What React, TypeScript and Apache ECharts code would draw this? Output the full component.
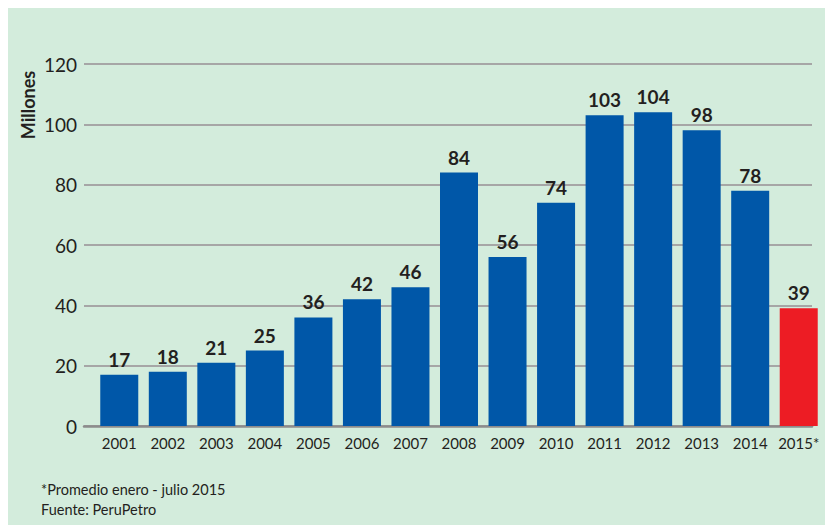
import React, { useEffect, useRef } from "react";
import * as echarts from "echarts";

const categories = ["2001", "2002", "2003", "2004", "2005", "2006", "2007", "2008", "2009", "2010", "2011", "2012", "2013", "2014", "2015*"];
const values = [17, 18, 21, 25, 36, 42, 46, 84, 56, 74, 103, 104, 98, 78, 39];
const highlightIndex = 14;
const yTicks = { min: 0, max: 120, interval: 20 };
const axisTitle = "Millones";
const footnotes = ["*Promedio enero - julio 2015", "Fuente: PeruPetro"];

const FONT = "Lato, 'Open Sans', sans-serif";
const TEXT = "#231f20";

export default function App() {
  const ref = useRef<HTMLDivElement>(null);
  useEffect(() => {
    if (!ref.current) return;
    const chart = echarts.init(ref.current, undefined, { renderer: "svg" });
    chart.setOption({
      animation: false,
      backgroundColor: "#d3ecdc",
      textStyle: { fontFamily: FONT },
      grid: [
        { left: 76, width: 728, top: 56, bottom: 99 },
        { left: 87, width: 728, top: 56, bottom: 99 },
      ],
      xAxis: [
        {
          gridIndex: 0,
          type: "value",
          min: 0,
          max: 1,
          axisLabel: { show: false },
          axisTick: { show: false },
          splitLine: { show: false },
          axisLine: { show: true, lineStyle: { color: "#8c8c8c", width: 2.5 } },
        },
        {
          gridIndex: 1,
          type: "category",
          data: categories,
          axisLine: { show: false },
          axisTick: { show: false },
          axisLabel: { color: TEXT, fontSize: 15, margin: 9, interval: 0, fontFamily: FONT },
        },
      ],
      yAxis: [
        {
          gridIndex: 0,
          type: "value",
          min: yTicks.min,
          max: yTicks.max,
          interval: yTicks.interval,
          axisLine: { show: false },
          axisTick: { show: false },
          axisLabel: { color: TEXT, fontSize: 19, margin: 7, fontFamily: FONT },
          splitLine: { lineStyle: { color: "#a6a6a6", width: 2 } },
        },
        {
          gridIndex: 1,
          type: "value",
          min: yTicks.min,
          max: yTicks.max,
          interval: yTicks.interval,
          show: false,
          splitLine: { show: false },
        },
      ],
      series: [
        {
          type: "bar",
          xAxisIndex: 1,
          yAxisIndex: 1,
          barWidth: 38,
          z: 3,
          data: values.map((v, i) => ({
            value: v,
            itemStyle: { color: i === highlightIndex ? "#ed1c24" : "#0057a8" },
          })),
          label: {
            show: true,
            position: "top",
            distance: 6,
            color: TEXT,
            fontSize: 19,
            fontWeight: "bold",
            fontFamily: FONT,
          },
        },
      ],
      graphic: [
        {
          type: "text",
          x: 20,
          y: 97,
          rotation: Math.PI / 2,
          style: {
            text: axisTitle,
            fill: TEXT,
            font: `bold 18px ${FONT}`,
            textAlign: "center",
            textVerticalAlign: "middle",
          },
        },
        {
          type: "text",
          left: 33,
          top: 474,
          style: { text: footnotes[0], fill: TEXT, font: `14.5px ${FONT}` },
        },
        {
          type: "text",
          left: 33,
          top: 494,
          style: { text: footnotes[1], fill: TEXT, font: `14.5px ${FONT}` },
        },
      ],
    });
    return () => chart.dispose();
  }, []);
  return <div ref={ref} style={{ width: 825, height: 517 }} />;
}
